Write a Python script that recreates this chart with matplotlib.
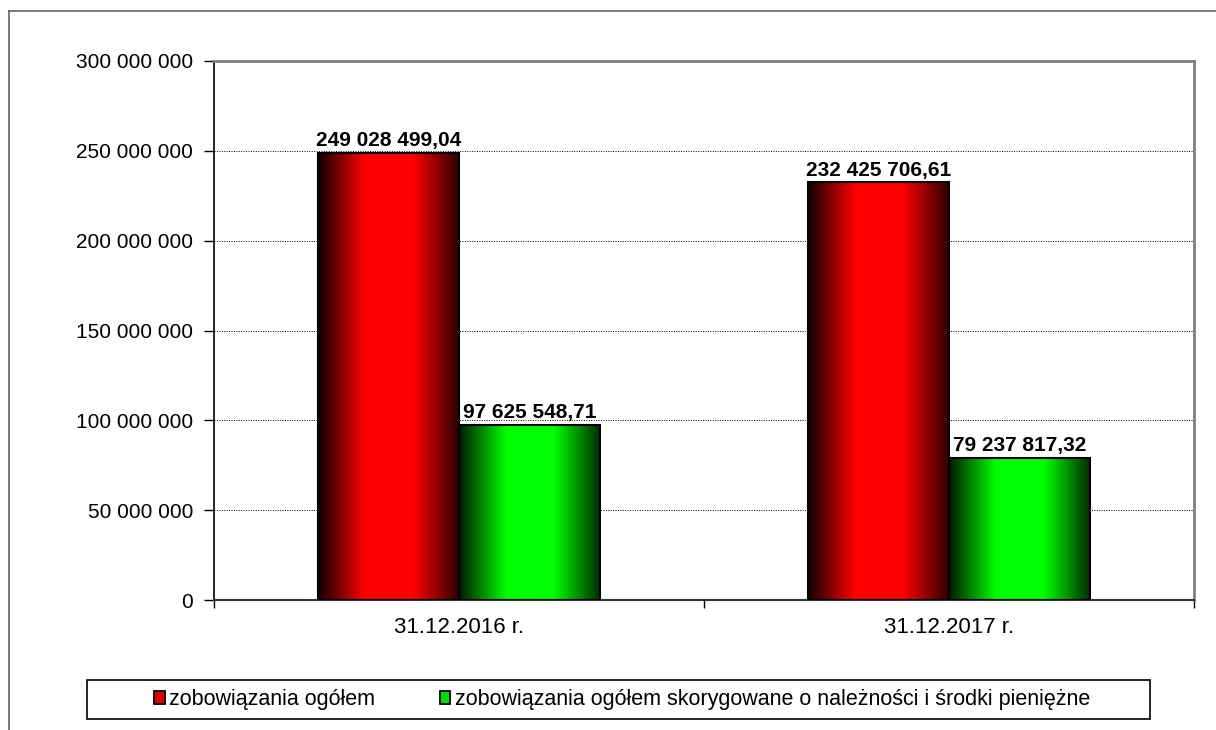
import numpy as np
import matplotlib.pyplot as plt
from matplotlib.colors import LinearSegmentedColormap
from matplotlib.patches import Patch, Rectangle
from matplotlib.lines import Line2D

plt.rcParams['font.family'] = ['Liberation Sans', 'DejaVu Sans']

categories = ['31.12.2016 r.', '31.12.2017 r.']
series_names = ['zobowiązania ogółem',
                'zobowiązania ogółem skorygowane o należności i środki pieniężne']
total = [249028499.04, 232425706.61]
adjusted = [97625548.71, 79237817.32]
yticks = [0, 50000000, 100000000, 150000000, 200000000, 250000000, 300000000]


def fmt(v, dec=False):
    s = '{:,.2f}'.format(v) if dec else '{:,.0f}'.format(v)
    s = s.replace(',', ' ').replace('.', ',')
    return s


red_cm = LinearSegmentedColormap.from_list('r', ['#120000', '#ff0000', '#ff0000', '#2a0000'],)
green_cm = LinearSegmentedColormap.from_list('g', ['#001a00', '#00ff00', '#00ff00', '#002a00'])

fig = plt.figure(figsize=(12.16, 7.30), dpi=100)
ax = fig.add_axes([214/1216, 1-600/730, (1194-214)/1216, (600-61)/730])

x = np.arange(len(categories))
w = 0.288
grad = np.linspace(0, 1, 256).reshape(1, -1)

for vals, off, cm in [(total, -w/2, red_cm), (adjusted, w/2, green_cm)]:
    bars = ax.bar(x + off, vals, width=w, facecolor='none', edgecolor='black', linewidth=1.5, zorder=3)
    for b, v in zip(bars, vals):
        x0, y0 = b.get_x(), b.get_y()
        im = ax.imshow(grad, cmap=cm, aspect='auto', extent=(x0, x0 + b.get_width(), 0, v),
                       interpolation='bicubic', zorder=2)
        im.set_clip_path(b)
        ax.text(b.get_x() + b.get_width()/2, v + 1200000, fmt(v, True), ha='center', va='bottom',
                fontsize=15, fontweight='bold', zorder=4)

ax.set_xlim(-0.5, 1.5)
ax.set_ylim(0, 300000000)
ax.set_yticks(yticks)
ax.set_yticklabels([fmt(t) for t in yticks], fontsize=15)
ax.set_xticks([-0.5, 0.5, 1.5])
ax.set_xticklabels([])
ax.set_xticks(x, minor=True)
ax.set_xticklabels(categories, minor=True, fontsize=16)
ax.tick_params(axis='x', which='minor', length=0, pad=12)
ax.tick_params(axis='x', which='major', length=6, width=1, direction='out')
ax.tick_params(axis='y', length=7, width=1, direction='out', pad=8)

for t in yticks[1:-1]:
    ax.axhline(t, color='black', linestyle=(0, (1, 1.5)), linewidth=0.7, zorder=1)

ax.spines['top'].set_color('#808080')
ax.spines['right'].set_color('#808080')
ax.spines['top'].set_linewidth(2)
ax.spines['right'].set_linewidth(2)
ax.spines['left'].set_linewidth(1.2)
ax.spines['bottom'].set_linewidth(1.5)
ax.spines['bottom'].set_color('#333333')

# outer chart frame (extends beyond image at right/bottom)
fig.add_artist(Line2D([9/1216, 1.0], [1-11/730, 1-11/730], color='#666666', linewidth=1.2))
fig.add_artist(Line2D([9/1216, 9/1216], [0.0, 1-11/730], color='#666666', linewidth=1.2))

# legend frame
fig.add_artist(Rectangle((87/1216, 1-719/730), (1150-87)/1216, 39/730, transform=fig.transFigure,
                         facecolor='white', edgecolor='black', linewidth=1.2))
handles = [Patch(facecolor='#e00000', edgecolor='black', linewidth=1.3),
           Patch(facecolor='#00e000', edgecolor='black', linewidth=1.3)]
fig.legend(handles, series_names, loc='center', bbox_to_anchor=(622/1216, 1-699.5/730), ncol=2,
           frameon=False, fontsize=15.5, handlelength=0.5, handleheight=0.55, handletextpad=0.2,
           columnspacing=3.0)

fig.savefig('out.png', dpi=100)
